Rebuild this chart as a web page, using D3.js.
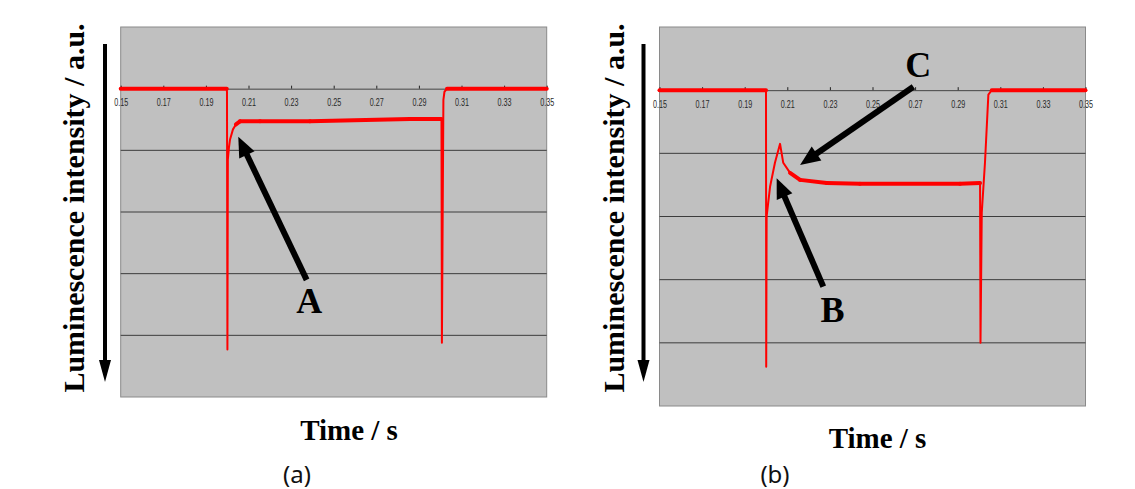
<!DOCTYPE html>
<meta charset="utf-8">
<style>
  body { margin: 0; background: #fff; }
  .tick text { font-family: "Liberation Sans", Arial, sans-serif; font-size: 11px; fill: #2a2a2a; }
</style>
<script src="https://d3js.org/d3.v7.min.js"></script>
<div id="chart"></div>
<script>
// time axis ticks (s)
var xTicks = [0.15, 0.17, 0.19, 0.21, 0.23, 0.25, 0.27, 0.29, 0.31, 0.33, 0.35];
var gridValues = [-1, -2, -3, -4];

// panel (a) trace
var timeA = [0.15, 0.1998, 0.1999, 0.2001, 0.2003, 0.2008, 0.2013, 0.2027, 0.2041, 0.2060, 0.2154, 0.2389, 0.2858, 0.3006, 0.3008, 0.3015, 0.3020, 0.3032, 0.35];
var lumA  = [0, 0, -0.06, -4.23, -1.15, -0.96, -0.83, -0.66, -0.58, -0.53, -0.53, -0.53, -0.49, -0.49, -4.12, -0.18, -0.05, 0, 0];

// panel (b) trace
var timeB = [0.15, 0.2000, 0.2001, 0.2003, 0.2019, 0.2042, 0.2066, 0.2081, 0.2113, 0.2160, 0.2285, 0.2441, 0.2911, 0.3005, 0.3007, 0.3013, 0.3028, 0.3044, 0.3060, 0.35];
var lumB  = [0, 0, -4.38, -2.0, -1.53, -1.15, -0.85, -1.15, -1.31, -1.42, -1.47, -1.48, -1.48, -1.47, -4.0, -1.94, -1.15, -0.07, 0, 0];

// annotations: [label, tailT, tailV, tipT, tipV, labelT, labelV]
var notesA = [["A", 0.2373, -3.10, 0.2052, -0.78, 0.2385, -3.63]];
var notesB = [["B", 0.2269, -3.11, 0.2050, -1.395, 0.2312, -3.665],
              ["C", 0.2692, 0.055, 0.2160, -1.184, 0.2715, 0.209]];

var width = 1135, height = 489;

var svg = d3.select("#chart").append("svg")
    .attr("width", width)
    .attr("height", height);

var panels = [
  {left: 120.7, right: 546.7, top: 27, bottom: 397, time: timeA, lum: lumA, notes: notesA,
   yLabelX: 84, arrowX: 105, timeX: 349, timeY: 440, tag: "(a)", tagX: 297},
  {left: 659.5, right: 1085.5, top: 27, bottom: 406, time: timeB, lum: lumB, notes: notesB,
   yLabelX: 623.5, arrowX: 643.5, timeX: 877.5, timeY: 448, tag: "(b)", tagX: 775}
];

function arrow(g, x1, y1, x2, y2, lw, headLen, headW) {
  var dx = x2 - x1, dy = y2 - y1, len = Math.sqrt(dx * dx + dy * dy);
  var ux = dx / len, uy = dy / len;
  var bx = x2 - ux * headLen, by = y2 - uy * headLen;
  g.append("line")
    .attr("x1", x1).attr("y1", y1)
    .attr("x2", bx + ux * 2).attr("y2", by + uy * 2)
    .attr("stroke", "#000").attr("stroke-width", lw);
  g.append("path")
    .attr("d", "M" + x2 + "," + y2 +
               "L" + (bx - uy * headW / 2) + "," + (by + ux * headW / 2) +
               "L" + (bx + uy * headW / 2) + "," + (by - ux * headW / 2) + "Z")
    .attr("fill", "#000");
}

panels.forEach(function(p) {
  var x = d3.scaleLinear().domain([0.15, 0.35]).range([p.left, p.right]);
  var y = d3.scaleLinear().domain([-5, 1]).range([p.bottom, p.top]);
  var w = p.right - p.left;

  var g = svg.append("g");

  // plot area
  g.append("rect")
    .attr("x", p.left).attr("y", p.top)
    .attr("width", w).attr("height", p.bottom - p.top)
    .attr("fill", "#c0c0c0")
    .attr("stroke", "#8a8a8a")
    .attr("stroke-width", 1);

  // horizontal gridlines
  g.selectAll(".grid")
    .data(gridValues)
    .enter().append("line")
    .attr("x1", p.left).attr("x2", p.right)
    .attr("y1", function(d) { return y(d); })
    .attr("y2", function(d) { return y(d); })
    .attr("stroke", "#3c3c3c")
    .attr("stroke-width", 1);

  // time axis crossing at zero
  var xAxis = d3.axisBottom(x)
    .tickValues(xTicks)
    .tickFormat(d3.format(".2f"))
    .tickSizeInner(-3)
    .tickSizeOuter(0)
    .tickPadding(10);

  var ax = g.append("g")
    .attr("transform", "translate(0," + y(0) + ")")
    .call(xAxis);
  ax.select(".domain").attr("stroke", "#444");
  ax.selectAll(".tick line").attr("stroke", "#222");
  ax.selectAll(".tick text")
    .attr("textLength", 14)
    .attr("lengthAdjust", "spacingAndGlyphs");

  // trace: thin where steep, thick where flat
  var pts = p.time.map(function(t, i) { return [t, p.lum[i]]; });
  var line = d3.line()
    .x(function(d) { return x(d[0]); })
    .y(function(d) { return y(d[1]); });

  g.append("path")
    .datum(pts)
    .attr("d", line)
    .attr("fill", "none")
    .attr("stroke", "#ff0000")
    .attr("stroke-width", 2)
    .attr("stroke-linejoin", "round");

  var flat = d3.pairs(pts).filter(function(s) {
    return Math.abs(y(s[1][1]) - y(s[0][1])) < Math.abs(x(s[1][0]) - x(s[0][0]));
  });
  g.selectAll(".flat")
    .data(flat)
    .enter().append("path")
    .attr("d", line)
    .attr("fill", "none")
    .attr("stroke", "#ff0000")
    .attr("stroke-width", 4)
    .attr("stroke-linecap", "round");

  // annotation arrows and letters
  p.notes.forEach(function(n) {
    arrow(g, x(n[1]), y(n[2]), x(n[3]), y(n[4]), 6, 20, 17);
    g.append("text")
      .attr("x", x(n[5])).attr("y", y(n[6]))
      .attr("text-anchor", "middle")
      .style("font-family", "'Liberation Serif', 'Times New Roman', serif")
      .style("font-weight", "bold")
      .style("font-size", "36px")
      .text(n[0]);
  });

  // y label and downward arrow
  g.append("text")
    .attr("transform", "translate(" + p.yLabelX + "," + 208 + ") rotate(-90)")
    .attr("text-anchor", "middle")
    .style("font-family", "'Liberation Serif', 'Times New Roman', serif")
    .style("font-weight", "bold")
    .style("font-size", "30px")
    .text("Luminescence intensity / a.u.");

  arrow(g, p.arrowX, 44, p.arrowX, 382, 4, 22, 12);

  g.append("text")
    .attr("x", p.timeX).attr("y", p.timeY)
    .attr("text-anchor", "middle")
    .style("font-family", "'Liberation Serif', 'Times New Roman', serif")
    .style("font-weight", "bold")
    .style("font-size", "29px")
    .text("Time / s");

  g.append("text")
    .attr("x", p.tagX).attr("y", 483)
    .attr("text-anchor", "middle")
    .style("font-family", "'Noto Sans', sans-serif")
    .style("font-size", "24px")
    .style("fill", "#111")
    .text(p.tag);
});
</script>
